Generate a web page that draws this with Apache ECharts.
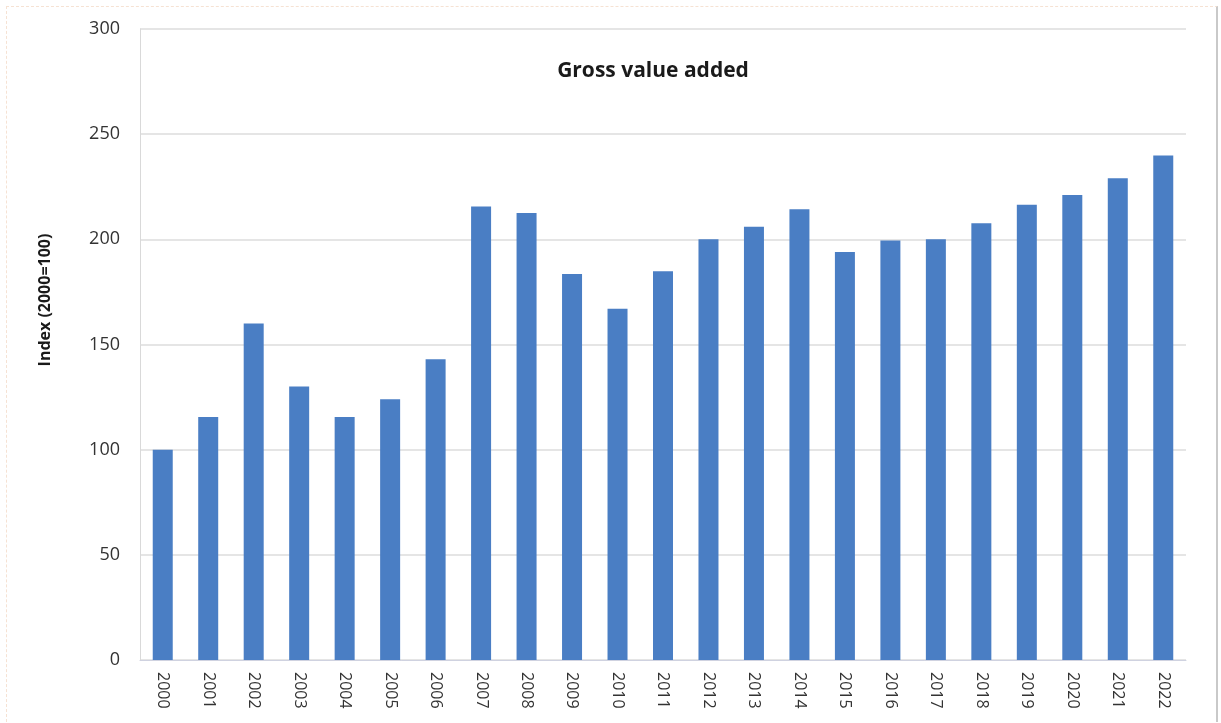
<!DOCTYPE html>
<html>
<head>
<meta charset="utf-8">
<title>Gross value added</title>
<script src="https://cdn.jsdelivr.net/npm/echarts@6/dist/echarts.min.js"></script>
<style>
  html, body { margin: 0; padding: 0; background: #ffffff; }
  #frame {
    position: absolute; left: 6px; top: 6px; width: 1212px; height: 716px;
    border-top: 1px dashed #f6e2d3; border-left: 1px dashed #f6e2d3;
    border-right: 2px solid #c9c9c9; box-sizing: border-box;
  }
  #chart { position: absolute; left: 0; top: 0; width: 1221px; height: 723px; }
</style>
</head>
<body>
<div id="frame"></div>
<div id="chart"></div>
<script>
// Years on the category axis
const years = ['2000','2001','2002','2003','2004','2005','2006','2007','2008','2009','2010','2011',
               '2012','2013','2014','2015','2016','2017','2018','2019','2020','2021','2022'];
// Gross value added index, 2000 = 100
const gva = [100, 115.5, 160, 130, 115.5, 124, 143, 215.6, 212.5, 183.5, 167, 184.8,
             200, 206, 214.3, 194, 199.5, 200, 207.6, 216.4, 221.1, 229, 239.8];
// Value-axis ticks
const yTicks = [0, 50, 100, 150, 200, 250, 300];
const yTitle = 'Index (2000=100)';

const chart = echarts.init(document.getElementById('chart'), null, { renderer: 'canvas' });
const font = '"Open Sans", "Liberation Sans", sans-serif';

chart.setOption({
  backgroundColor: 'transparent',
  animation: false,
  title: {
    text: 'Gross value added',
    left: 648, top: 56, textAlign: 'center',
    textStyle: { fontFamily: font, fontSize: 21, fontWeight: 'bold', color: '#1a1a1a' }
  },
  graphic: [{
    type: 'text',
    x: 45, y: 300,
    rotation: Math.PI / 2,
    style: {
      text: yTitle,
      fontFamily: font, fontSize: 16, fontWeight: 'bold', fill: '#1a1a1a',
      align: 'center', verticalAlign: 'middle'
    }
  }],
  grid: { left: 140, right: 35, top: 29, bottom: 63, containLabel: false },
  xAxis: {
    type: 'category',
    data: years,
    axisLine: { show: true, lineStyle: { color: '#cfd2e0', width: 1 } },
    axisTick: { show: false },
    axisLabel: {
      rotate: -90, margin: 12, fontFamily: font, fontSize: 16, color: '#333333'
    },
    splitLine: { show: false }
  },
  yAxis: {
    type: 'value',
    min: yTicks[0], max: yTicks[yTicks.length - 1], interval: 50,
    axisLine: { show: true, lineStyle: { color: '#d9d9d9' } },
    axisTick: { show: false },
    axisLabel: { margin: 20, fontFamily: font, fontSize: 18, color: '#333333' },
    splitLine: { show: true, lineStyle: { color: '#dcdcdc', width: 1.5 } }
  },
  series: [{
    type: 'bar',
    data: gva,
    barWidth: 20,
    itemStyle: { color: '#4a7ec4' }
  }]
});
</script>
</body>
</html>
